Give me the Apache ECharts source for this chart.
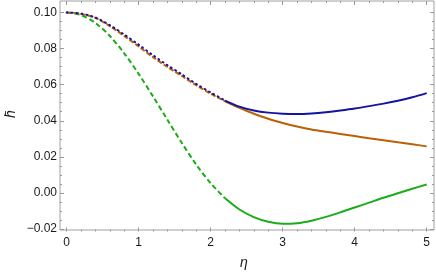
<!DOCTYPE html>
<html>
<head>
<meta charset="utf-8">
<script src="https://cdn.jsdelivr.net/npm/echarts@6/dist/echarts.min.js"></script>
<style>html,body{margin:0;padding:0;background:#fff;}#c{width:436px;height:275px;}</style>
</head>
<body>
<div id="c"></div>
<script>
const eta = [0.0,0.2,0.4,0.6,0.8,1.0,1.2,1.4,1.6,1.8,2.0,2.2,2.4,2.6,2.8,3.0,3.2,3.4,3.6,3.8,4.0,4.2,4.4,4.6,4.8,5.0];
const hBlue = [0.1000,0.0994,0.0972,0.0930,0.0878,0.0822,0.0763,0.0708,0.0657,0.0604,0.0557,0.0512,0.0478,0.0457,0.0445,0.0439,0.0437,0.0440,0.0447,0.0457,0.0468,0.0481,0.0495,0.0511,0.0530,0.0553];
const hOrange = [0.1000,0.0992,0.0970,0.0925,0.0870,0.0812,0.0752,0.0698,0.0648,0.0597,0.0550,0.0508,0.0472,0.0439,0.0411,0.0388,0.0368,0.0352,0.0339,0.0327,0.0315,0.0303,0.0292,0.0281,0.0270,0.0258];
const hGreen = [0.1000,0.0986,0.0942,0.0870,0.0774,0.0660,0.0535,0.0405,0.0277,0.0157,0.0054,-0.0030,-0.0092,-0.0134,-0.0160,-0.0171,-0.0168,-0.0154,-0.0133,-0.0108,-0.0081,-0.0054,-0.0027,-0.0002,0.0023,0.0047];
const splitEta = 2.2;
const xTicks = [0,1,2,3,4,5];
const yTicks = [-0.02,0.00,0.02,0.04,0.06,0.08,0.10];
const xName = 'η';
const yName = 'h̄';

function part(ys, early) {
  return eta.map((x, i) => [x, ys[i]]).filter(p => early ? p[0] <= splitEta + 1e-9 : p[0] >= splitEta - 1e-9);
}
const cBlue = '#1414a0', cOrange = '#bb5f08', cGreen = '#1aac1a';
const tickCol = '#9a9a9a';
const labelFont = {color: '#1a1a1a', fontFamily: 'Liberation Sans', fontSize: 12};

function mkSeries(ys, color, early, dash) {
  return {
    type: 'line', xAxisIndex: 0, yAxisIndex: 0, data: part(ys, early),
    showSymbol: false, smooth: 0.3, clip: false, animation: false,
    lineStyle: {color: color, width: 2, type: early ? dash : 'solid', cap: early && dash[0] < 2 ? 'round' : 'butt'}
  };
}

const xBase = {gridIndex: 0, type: 'value', min: xTicks[0], max: xTicks[xTicks.length - 1], interval: 1,
  axisLine: {show: false, onZero: false}, splitLine: {show: false},
  axisTick: {show: true, inside: true, length: 4, lineStyle: {color: tickCol}},
  minorTick: {show: true, splitNumber: 5, length: 2, lineStyle: {color: tickCol}}};
const yBase = {gridIndex: 0, type: 'value', min: yTicks[0], max: yTicks[yTicks.length - 1], interval: 0.02,
  axisLine: {show: false, onZero: false}, splitLine: {show: false},
  axisTick: {show: true, inside: true, length: 4, lineStyle: {color: tickCol}},
  minorTick: {show: true, splitNumber: 4, length: 2, lineStyle: {color: tickCol}}};

const option = {
  animation: false,
  backgroundColor: '#fff',
  grid: [
    {left: 66.6, right: 9.3, top: 12.5, bottom: 46, show: false},
    {left: 60, right: 2, top: 1, bottom: 43.5, show: true, borderColor: '#a0a0a0', borderWidth: 1, backgroundColor: 'transparent'}
  ],
  xAxis: [
    Object.assign({}, xBase, {position: 'bottom', offset: 2.5,
      axisLabel: Object.assign({margin: 5, formatter: v => String(v)}, labelFont)}),
    Object.assign({}, xBase, {position: 'top', offset: 11.5, axisLabel: {show: false}}),
    {gridIndex: 1, type: 'value', min: 0, max: 1, position: 'bottom',
      axisLine: {show: false, onZero: false}, axisTick: {show: false}, axisLabel: {show: false}, splitLine: {show: false},
      name: xName, nameLocation: 'middle', nameGap: 26,
      nameTextStyle: {fontStyle: 'italic', fontSize: 14, color: '#1a1a1a', fontFamily: 'Liberation Sans', padding: [0, 6, 0, 0]}}
  ],
  yAxis: [
    Object.assign({}, yBase, {position: 'left', offset: 6.6,
      axisLabel: Object.assign({margin: 3, formatter: v => (v < 0 ? '−' : '') + Math.abs(v).toFixed(2)}, labelFont)}),
    Object.assign({}, yBase, {position: 'right', offset: 7.3, axisLabel: {show: false}}),
    {gridIndex: 1, type: 'value', min: 0, max: 1, position: 'left', show: false}
  ],
  graphic: [{
    type: 'text', x: 11, y: 114, rotation: Math.PI / 2,
    style: {text: yName, align: 'center', verticalAlign: 'middle', fill: '#1a1a1a',
      font: 'italic 14px "Liberation Sans"'}
  }],
  series: [
    mkSeries(hGreen, cGreen, true, [5, 3]),
    mkSeries(hGreen, cGreen, false),
    mkSeries(hOrange, cOrange, true, [5, 2]),
    mkSeries(hOrange, cOrange, false),
    mkSeries(hBlue, cBlue, true, [1, 4]),
    mkSeries(hBlue, cBlue, false)
  ]
};
const chart = echarts.init(document.getElementById('c'), null, {renderer: 'canvas'});
chart.setOption(option);
</script>
</body>
</html>
